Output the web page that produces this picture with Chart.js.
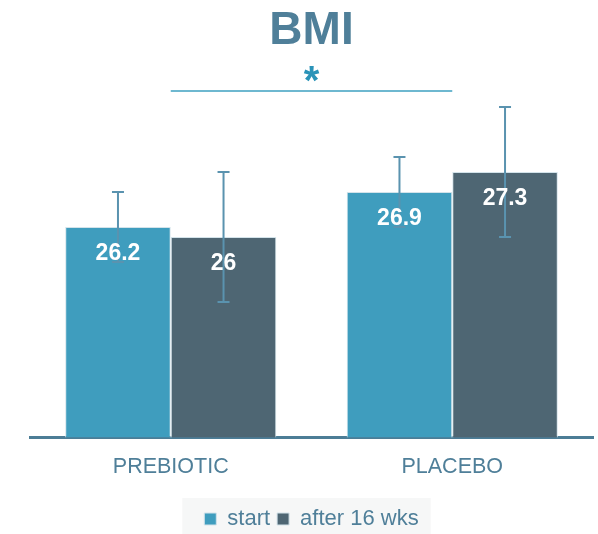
<!DOCTYPE html>
<html>
<head>
<meta charset="utf-8">
<script src="https://cdn.jsdelivr.net/npm/chart.js@4.4.0/dist/chart.umd.min.js"></script>
<style>
  html, body { margin: 0; padding: 0; background: #fff; }
  #wrap { width: 598px; height: 534px; }
</style>
</head>
<body>
<div id="wrap"><canvas id="barChart"></canvas></div>
<script>
//-------------
//- BMI CHART -
//-------------

var categories = ['PREBIOTIC', 'PLACEBO']
var startValues = [26.2, 26.9]
var afterValues = [26.0, 27.3]
var startErrors = [0.7, 0.7]
var afterErrors = [1.3, 1.3]
var seriesLabels = ['start', 'after 16 wks']

var textColor = '#4f7f99'

// error bars, value labels and the significance mark
var extrasPlugin = {
  id: 'extras',
  beforeDraw: function (chart) {
    // grey box behind the legend
    var items = chart.legend.legendHitBoxes
    if (!items || !items.length) return
    var ctx = chart.ctx
    var left = items[0].left - 22
    var last = items[items.length - 1]
    var right = last.left + last.width + 12
    var top = items[0].top + items[0].height / 2 - 21
    ctx.save()
    ctx.fillStyle = '#f6f7f7'
    ctx.fillRect(left, top, right - left, chart.height - top)
    ctx.restore()
  },
  afterDatasetsDraw: function (chart) {
    var ctx = chart.ctx
    var y = chart.scales.y
    var errs = [startErrors, afterErrors]
    ctx.save()
    chart.data.datasets.forEach(function (ds, di) {
      var meta = chart.getDatasetMeta(di)
      meta.data.forEach(function (bar, i) {
        var v = ds.data[i]
        var top = y.getPixelForValue(v + errs[di][i])
        var bot = y.getPixelForValue(v - errs[di][i])
        ctx.strokeStyle = '#5a93af'
        ctx.lineWidth = 2
        ctx.beginPath()
        ctx.moveTo(bar.x, top)
        ctx.lineTo(bar.x, bot)
        ctx.moveTo(bar.x - 6, top)
        ctx.lineTo(bar.x + 6, top)
        ctx.moveTo(bar.x - 6, bot)
        ctx.lineTo(bar.x + 6, bot)
        ctx.stroke()
      })
    })
    // value labels
    chart.data.datasets.forEach(function (ds, di) {
      var meta = chart.getDatasetMeta(di)
      meta.data.forEach(function (bar, i) {
        ctx.fillStyle = '#ffffff'
        ctx.font = 'bold 23px "Liberation Sans", Arial, sans-serif'
        ctx.textAlign = 'center'
        ctx.textBaseline = 'middle'
        ctx.fillText(String(ds.data[i]), bar.x, bar.y + 27)
      })
    })
    // significance line + asterisk
    var a = chart.getDatasetMeta(1).data[0]
    var b = chart.getDatasetMeta(0).data[1]
    var x1 = a.x - a.width / 2
    var x2 = b.x + b.width / 2
    var ly = chart.chartArea.top + 4
    ctx.strokeStyle = '#3ea0c0'
    ctx.lineWidth = 1.5
    ctx.beginPath()
    ctx.moveTo(x1, ly)
    ctx.lineTo(x2, ly)
    ctx.stroke()
    ctx.fillStyle = '#2a93b8'
    ctx.font = 'bold 40px "Liberation Sans", Arial, sans-serif'
    ctx.textAlign = 'center'
    ctx.textBaseline = 'alphabetic'
    ctx.fillText('*', (x1 + x2) / 2, ly + 3)
    ctx.restore()
  }
}

var barChartCanvas = document.getElementById('barChart').getContext('2d')
var barChart = new Chart(barChartCanvas, {
  type: 'bar',
  data: {
    labels: categories,
    datasets: [{
      label: seriesLabels[0],
      data: startValues,
      backgroundColor: '#3f9dbe',
      borderColor: '#d3e3ea',
      borderWidth: 1,
    }, {
      label: seriesLabels[1],
      data: afterValues,
      backgroundColor: '#4e6673',
      borderColor: '#d3e3ea',
      borderWidth: 1,
    }]
  },
  options: {
    responsive: true,
    maintainAspectRatio: false,
    animation: false,
    datasets: { bar: { categoryPercentage: 0.75, barPercentage: 1 } },
    layout: { padding: { left: 30, right: 5, top: 0, bottom: -6 } },
    scales: {
      x: {
        grid: { display: false },
        border: { display: true, color: '#4c7d96', width: 3 },
        ticks: { color: textColor, font: { family: '"Liberation Sans", Arial, sans-serif', size: 21.5 }, padding: 9 },
        afterFit: function (scale) { scale.height += 12 }
      },
      y: { display: false, min: 22, max: 29 }
    },
    plugins: {
      title: {
        display: true,
        text: 'BMI',
        color: textColor,
        font: { family: '"Liberation Sans", Arial, sans-serif', size: 46, weight: 'bold', lineHeight: 1 },
        padding: { top: 8, bottom: 33 }
      },
      legend: {
        position: 'bottom',
        labels: {
          color: textColor,
          font: { family: '"Liberation Sans", Arial, sans-serif', size: 22 },
          boxWidth: 12,
          boxHeight: 12,
          padding: 7
        }
      },
      tooltip: { enabled: false }
    }
  },
  plugins: [extrasPlugin]
})
</script>
</body>
</html>
